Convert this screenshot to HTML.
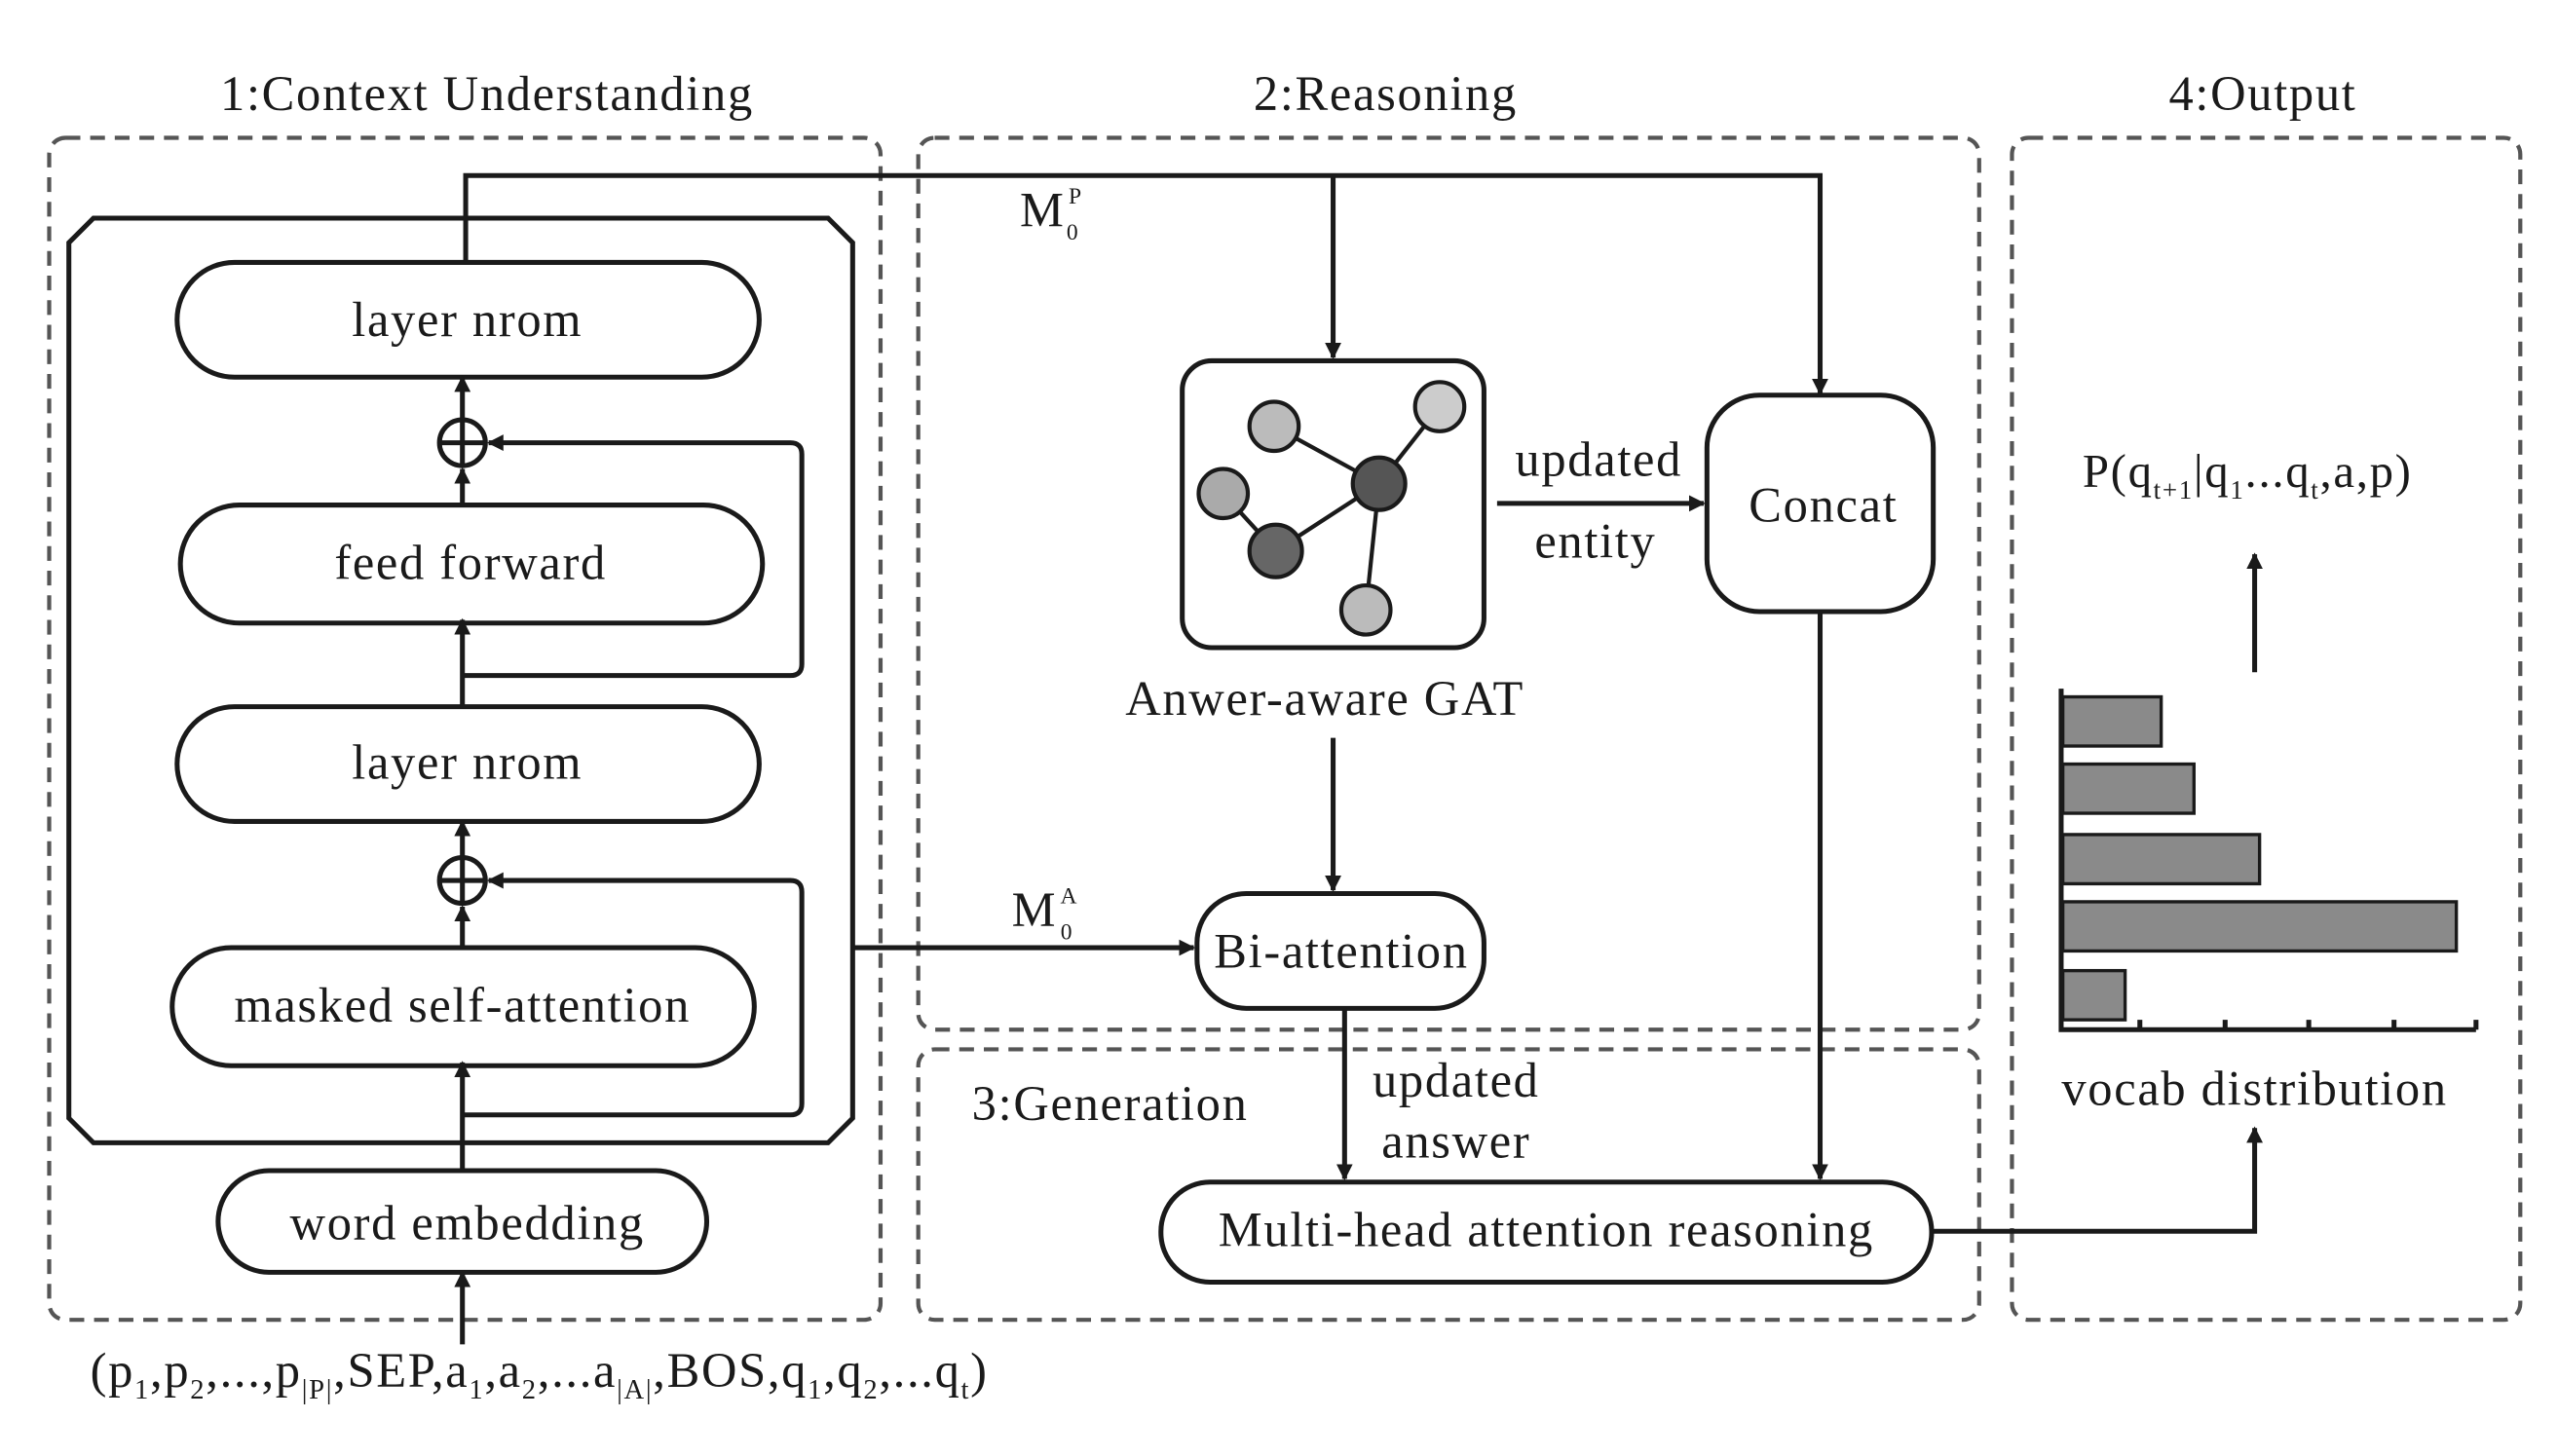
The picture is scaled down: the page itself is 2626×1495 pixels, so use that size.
<!DOCTYPE html>
<html><head><meta charset="utf-8"><style>
html,body{margin:0;padding:0;background:#fff;}
svg{display:block;}
text{font-family:"Liberation Serif",serif;fill:#1a1a1a;letter-spacing:1px;}
</style></head><body>
<svg width="2626" height="1495" viewBox="0 0 1560 888" xmlns="http://www.w3.org/2000/svg">
<defs>
<marker id="a" markerWidth="10" markerHeight="10" refX="9" refY="5" orient="auto" markerUnits="userSpaceOnUse">
<path d="M0,0 L10,5 L0,10 z" fill="#1a1a1a"/></marker>
</defs>
<g fill="none" stroke="#555" stroke-width="2.5" stroke-dasharray="9,6">
<rect x="30" y="84" width="507" height="721" rx="10"/>
<rect x="560" y="84" width="647" height="544" rx="10"/>
<rect x="560" y="640" width="647" height="165" rx="10"/>
<rect x="1227" y="84" width="310" height="721" rx="10"/>
</g>
<g font-size="30" text-anchor="middle">
<text x="297" y="67">1:Context Understanding</text>
<text x="845" y="67">2:Reasoning</text>
<text x="1380" y="67">4:Output</text>
</g>
<g fill="none" stroke="#1a1a1a" stroke-width="3">
<path d="M57,133 L505,133 L520,148 L520,682 L505,697 L57,697 L42,682 L42,148 Z"/>
<rect x="108" y="160" width="355" height="70" rx="35"/>
<rect x="110" y="308" width="355" height="72" rx="36"/>
<rect x="108" y="431" width="355" height="70" rx="35"/>
<rect x="105" y="578" width="355" height="72" rx="36"/>
<rect x="133" y="714" width="298" height="62" rx="31"/>
<circle cx="282" cy="270" r="14"/><path d="M268,270 H296 M282,256 V284"/>
<circle cx="282" cy="537" r="14"/><path d="M268,537 H296 M282,523 V551"/>
<path d="M282,412 H482 Q489,412 489,405 V277 Q489,270 482,270 H298" marker-end="url(#a)"/>
<path d="M282,680 H482 Q489,680 489,673 V544 Q489,537 482,537 H298" marker-end="url(#a)"/>
<path d="M282,431 V378" marker-end="url(#a)"/>
<path d="M282,308 V286" marker-end="url(#a)"/>
<path d="M282,256 V230" marker-end="url(#a)"/>
<path d="M282,578 V553" marker-end="url(#a)"/>
<path d="M282,523 V501" marker-end="url(#a)"/>
<path d="M282,714 V648" marker-end="url(#a)"/>
<path d="M282,820 V776" marker-end="url(#a)"/>
<path d="M284,160 V107 H1110 V240" marker-end="url(#a)"/>
<path d="M813,107 V218" marker-end="url(#a)"/>
<rect x="721" y="220" width="184" height="175" rx="18"/>
<rect x="1041" y="241" width="138" height="132" rx="32"/>
<path d="M913,307 H1039" marker-end="url(#a)"/>
<path d="M813,450 V543" marker-end="url(#a)"/>
<rect x="730" y="545" width="175" height="70" rx="30"/>
<path d="M520,578 H728" marker-end="url(#a)"/>
<path d="M820,615 V719" marker-end="url(#a)"/>
<path d="M1110,373 V719" marker-end="url(#a)"/>
<rect x="708" y="721" width="470" height="61" rx="30"/>
<path d="M1178,751 H1375 V688" marker-end="url(#a)"/>
<path d="M1375,410 V338" marker-end="url(#a)"/>
<path d="M1257,420 V628 H1510"/>
<path d="M1305,628 V622 M1357,628 V622 M1408,628 V622 M1460,628 V622 M1510,628 V622"/>
</g>
<g stroke="#1a1a1a" stroke-width="2.5">
<line x1="777" y1="260" x2="841" y2="295"/><line x1="878" y1="248" x2="841" y2="295"/>
<line x1="746" y1="301" x2="778" y2="336"/><line x1="778" y1="336" x2="841" y2="295"/>
<line x1="841" y1="295" x2="833" y2="372"/>
<circle cx="777" cy="260" r="15" fill="#bbb"/>
<circle cx="878" cy="248" r="15" fill="#ccc"/>
<circle cx="746" cy="301" r="15" fill="#aaa"/>
<circle cx="841" cy="295" r="16" fill="#555"/>
<circle cx="778" cy="336" r="16" fill="#666"/>
<circle cx="833" cy="372" r="15" fill="#bbb"/>
</g>
<g fill="#8a8a8a" stroke="#1a1a1a" stroke-width="2">
<rect x="1258" y="425" width="60" height="30"/>
<rect x="1258" y="466" width="80" height="30"/>
<rect x="1258" y="509" width="120" height="30"/>
<rect x="1258" y="550" width="240" height="30"/>
<rect x="1258" y="592" width="38" height="30"/>
</g>
<g font-size="30" text-anchor="middle">
<text x="285" y="205">layer nrom</text>
<text x="287" y="353">feed forward</text>
<text x="285" y="475">layer nrom</text>
<text x="282" y="623">masked self-attention</text>
<text x="285" y="756">word embedding</text>
<text x="808" y="436">Anwer-aware GAT</text>
<text x="1112" y="318">Concat</text>
<text x="975" y="290">updated</text>
<text x="973" y="340">entity</text>
<text x="818" y="590">Bi-attention</text>
<text x="888" y="669">updated</text>
<text x="888" y="706">answer</text>
<text x="943" y="760">Multi-head attention reasoning</text>
<text x="1375" y="674">vocab distribution</text>
<text x="677" y="683">3:Generation</text>
</g>
<text x="622" y="138" font-size="30">M<tspan font-size="14" dx="2" dy="-14">P</tspan><tspan font-size="14" dx="-10" dy="22">0</tspan></text>
<text x="617" y="565" font-size="30">M<tspan font-size="14" dx="2" dy="-14">A</tspan><tspan font-size="14" dx="-11" dy="22">0</tspan></text>
<text x="1270" y="297" font-size="29">P(q<tspan font-size="16" dy="7">t+1</tspan><tspan dy="-7">|q</tspan><tspan font-size="16" dy="7">1</tspan><tspan dy="-7">...q</tspan><tspan font-size="16" dy="7">t</tspan><tspan dy="-7">,a,p)</tspan></text>
<text x="55" y="846" font-size="30">(p<tspan font-size="17" dy="7">1</tspan><tspan dy="-7">,p</tspan><tspan font-size="17" dy="7">2</tspan><tspan dy="-7">,...,p</tspan><tspan font-size="17" dy="7">|P|</tspan><tspan dy="-7">,SEP,a</tspan><tspan font-size="17" dy="7">1</tspan><tspan dy="-7">,a</tspan><tspan font-size="17" dy="7">2</tspan><tspan dy="-7">,...a</tspan><tspan font-size="17" dy="7">|A|</tspan><tspan dy="-7">,BOS,q</tspan><tspan font-size="17" dy="7">1</tspan><tspan dy="-7">,q</tspan><tspan font-size="17" dy="7">2</tspan><tspan dy="-7">,...q</tspan><tspan font-size="17" dy="7">t</tspan><tspan dy="-7">)</tspan></text>
</svg>
</body></html>
